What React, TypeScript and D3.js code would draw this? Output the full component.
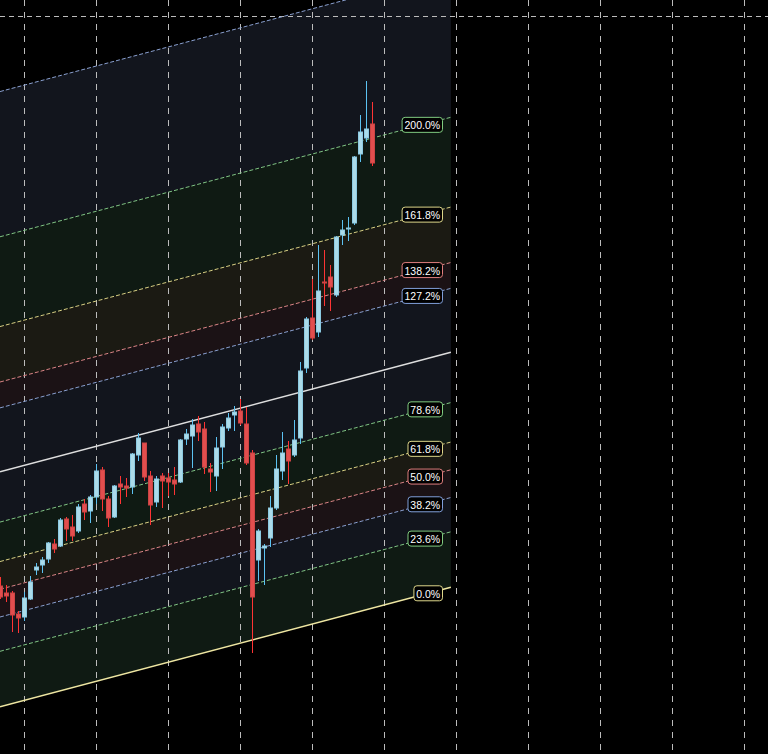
import React, { useEffect } from 'react';
import * as d3 from 'd3';

const W = 768;
const H = 754;

// OHLC series (price units), one candle per bar index 0..62
const opens = [430, 423, 423, 402, 399, 417, 446, 451, 457, 472, 470, 497, 489, 485, 512, 505, 519, 546, 517, 499, 532, 530, 529, 561, 573, 540, 514, 540, 538, 536, 534, 577, 580, 592, 587, 547, 540, 569, 588, 601, 605, 592, 563, 456, 468, 478, 508, 545, 567, 561, 578, 648, 698, 684, 734, 739, 721, 781, 787, 793, 862, 878, 892];
const highs = [439, 431, 425, 405, 424, 440, 453, 459, 474, 477, 498, 499, 501, 512, 517, 521, 552, 549, 520, 531, 540, 538, 563, 583, 573, 545, 540, 543, 543, 549, 577, 587, 597, 600, 594, 553, 579, 592, 603, 610, 617, 609, 566, 487, 472, 520, 561, 584, 575, 596, 654, 699, 737, 771, 766, 751, 780, 796, 799, 860, 901, 935, 914];
const lows = [417, 414, 384, 383, 395, 416, 441, 443, 453, 463, 469, 475, 475, 483, 496, 493, 512, 505, 489, 498, 512, 519, 522, 555, 535, 491, 509, 508, 520, 521, 533, 571, 548, 575, 542, 524, 525, 547, 585, 585, 591, 551, 363, 435, 431, 469, 506, 536, 532, 559, 572, 643, 676, 679, 710, 705, 719, 771, 775, 791, 854, 874, 850];
const closes = [419, 420, 401, 398, 418, 434, 449, 456, 473, 467, 496, 487, 480, 509, 504, 519, 545, 517, 498, 530, 529, 528, 562, 578, 539, 511, 537, 535, 534, 532, 576, 582, 591, 584, 549, 544, 568, 589, 598, 604, 593, 553, 419, 485, 470, 508, 547, 563, 555, 576, 645, 697, 678, 725, 733, 729, 779, 786, 788, 859, 884, 887, 853];

// Fibonacci channel
const fibLevels = [0, 0.236, 0.382, 0.5, 0.618, 0.786, 1, 1.272, 1.382, 1.618, 2, 2.618];
const fibLabels = ['0.0%', '23.6%', '38.2%', '50.0%', '61.8%', '78.6%', '100.0%', '127.2%', '138.2%', '161.8%', '200.0%', '261.8%'];
const fibShowLabel = [true, true, true, true, true, true, false, true, true, true, true, false];
const channelAnchorA = { index: 0, price: 309.3 };
const channelAnchorB = { index: 62, price: 407.9 };
const channelWidth = 235;
const channelEndIndex = 75.1;

// grid
const xGridIndices = [4, 16, 28, 40, 52, 64, 76, 88, 100, 112, 124];
const yGridPrices = [1000];

const lineColors = ['#eee6a2', '#80c484', '#8aa0d0', '#da8486', '#d8d084', '#80c484', '#dedede', '#8aa0d0', '#da8486', '#d8d084', '#80c484', '#8aa0d0'];
const labelColors = ['#ddd68a', '#80cc80', '#809fda', '#e07e7e', '#ddd68a', '#80cc80', '#d6d6d6', '#809fda', '#e07e7e', '#ddd68a', '#80cc80', '#809fda'];
const bandColors = ['#0f1a13', '#12151d', '#1b1215', '#1b1a13', '#0f1a13', '#12151d', '#12151d', '#1b1215', '#1b1a13', '#0f1a13', '#12151d'];

export default function App() {
  useEffect(() => {
    document.body.style.margin = '0';
    document.body.style.background = '#000';
  }, []);

  const x = d3.scaleLinear().domain([-0.05, 127.95]).range([0, W]);
  const y = d3.scaleLinear().domain([262, 1016]).range([H, 0]);

  const slope = (channelAnchorB.price - channelAnchorA.price) / (channelAnchorB.index - channelAnchorA.index);
  const basePrice = (i: number) => channelAnchorA.price + slope * (i - channelAnchorA.index);
  const levelPrice = (lvl: number, i: number) => basePrice(i) + lvl * channelWidth;

  const iLeft = x.invert(0);
  const iRight = channelEndIndex;

  const bands = fibLevels.slice(0, -1).map((lvl, k) => {
    const up = fibLevels[k + 1];
    const pts: [number, number][] = [
      [x(iLeft), y(levelPrice(lvl, iLeft))],
      [x(iRight), y(levelPrice(lvl, iRight))],
      [x(iRight), y(levelPrice(up, iRight))],
      [x(iLeft), y(levelPrice(up, iLeft))],
    ];
    return { d: 'M' + pts.map((p) => p.join(',')).join('L') + 'Z', fill: bandColors[k] };
  });

  const labelX = 442.5;
  const labelH = 15;

  return (
    <svg width={W} height={H} style={{ position: 'absolute', left: 0, top: 0, display: 'block', background: '#000' }}>
      <rect x={0} y={0} width={W} height={H} fill="#000" />
      {bands.map((b, k) => (
        <path key={'b' + k} d={b.d} fill={b.fill} />
      ))}
      {xGridIndices.map((gi) => {
        const gx = Math.floor(x(gi)) + 0.5;
        return <line key={'gx' + gi} x1={gx} x2={gx} y1={0} y2={H} stroke="#bcbcbc" strokeWidth={1} strokeDasharray="6 6" />;
      })}
      {yGridPrices.map((gp) => {
        const gy = Math.floor(y(gp)) + 0.5;
        return <line key={'gy' + gp} x1={0} x2={W} y1={gy} y2={gy} stroke="#bcbcbc" strokeWidth={1} strokeDasharray="5 4" />;
      })}
      {fibLevels.map((lvl, k) => {
        const solid = lvl === 0 || lvl === 1;
        return (
          <line
            key={'l' + k}
            x1={x(iLeft)}
            y1={y(levelPrice(lvl, iLeft))}
            x2={x(iRight)}
            y2={y(levelPrice(lvl, iRight))}
            stroke={lineColors[k]}
            strokeWidth={solid ? 1.5 : 1}
            strokeDasharray={solid ? undefined : '4 2'}
          />
        );
      })}
      {opens.map((o, i) => {
        const c = closes[i];
        const up = c >= o;
        const cx = Math.floor(x(i)) + 0.5;
        const top = y(Math.max(o, c));
        const bot = y(Math.min(o, c));
        const bh = Math.max(1, bot - top);
        return (
          <g key={'c' + i}>
            <line x1={cx} x2={cx} y1={y(highs[i])} y2={y(lows[i])} stroke={up ? '#5cc2f2' : '#ff3434'} strokeWidth={1} />
            <rect
              x={cx - 2}
              y={top}
              width={4}
              height={bh}
              fill={up ? '#acdbe9' : '#e24e4e'}
              stroke={up ? '#8ccae2' : '#cc4444'}
              strokeWidth={1}
            />
          </g>
        );
      })}
      {fibLevels.map((lvl, k) => {
        if (!fibShowLabel[k]) return null;
        const txt = fibLabels[k];
        const w = txt.length * 5.9 + 5;
        const cxl = labelX - w / 2;
        const cy = y(levelPrice(lvl, x.invert(cxl)));
        return (
          <g key={'t' + k}>
            <rect x={labelX - w} y={cy - labelH / 2} width={w} height={labelH} rx={3} ry={3} fill="#000" stroke={labelColors[k]} strokeWidth={1} />
            <text
              x={cxl}
              y={cy + 0.5}
              textAnchor="middle"
              dominantBaseline="central"
              fill="#ffffff"
              fontFamily="'Liberation Sans', Arial, sans-serif"
              fontSize={10.5}
            >
              {txt}
            </text>
          </g>
        );
      })}
    </svg>
  );
}
